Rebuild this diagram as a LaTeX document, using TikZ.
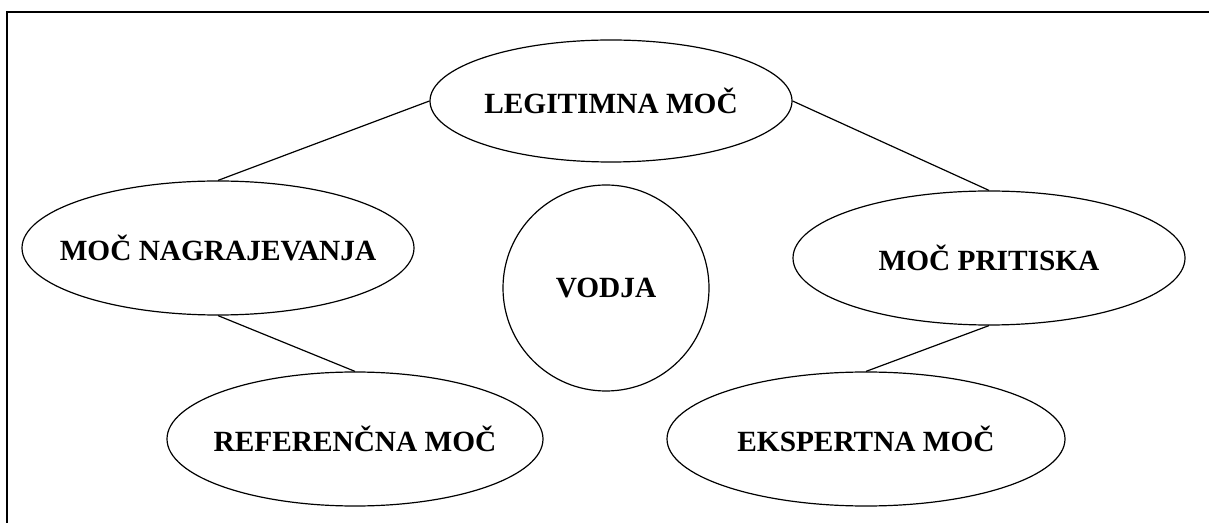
\documentclass[tikz,border=0pt]{standalone}
\usepackage{fontspec}
\setmainfont{Liberation Serif}
\usetikzlibrary{shapes.geometric}
\begin{document}
\begin{tikzpicture}[x=0.75pt,y=0.75pt,yscale=-1,xscale=1,
	moc/.style={draw,ellipse,line width=0.9pt,inner sep=0pt,
		label={[font=\fontsize{22}{26}\selectfont\bfseries]center:#1}},
	vez/.style={line width=0.9pt}]
		\useasboundingbox (0,0) rectangle (1209,523);
		\draw [line width=1.6pt]  (7,523) -- (7,12) -- (1209,12);
		\node [moc={LEGITIMNA MOČ},minimum width=362*0.75pt,minimum height=122*0.75pt] (legit) at (611,101) {};
		\node [moc={MOČ NAGRAJEVANJA},minimum width=392*0.75pt,minimum height=134*0.75pt] (nagr) at (218,248) {};
		\node [moc={VODJA},circle,minimum size=206*0.75pt] (vodja) at (606,288) {};
		\node [moc={MOČ PRITISKA},minimum width=392*0.75pt,minimum height=134*0.75pt] (prit) at (989,258) {};
		\node [moc={REFERENČNA MOČ},minimum width=376*0.75pt,minimum height=134*0.75pt] (ref) at (355,439) {};
		\node [moc={EKSPERTNA MOČ},minimum width=398*0.75pt,minimum height=134*0.75pt] (eksp) at (866,439) {};
		\draw [vez]  (legit.west) -- (nagr.north);
		\draw [vez]  (legit.east) -- (prit.north);
		\draw [vez]  (nagr.south) -- (ref.north);
		\draw [vez]  (prit.south) -- (eksp.north);
	\end{tikzpicture}
\end{document}
